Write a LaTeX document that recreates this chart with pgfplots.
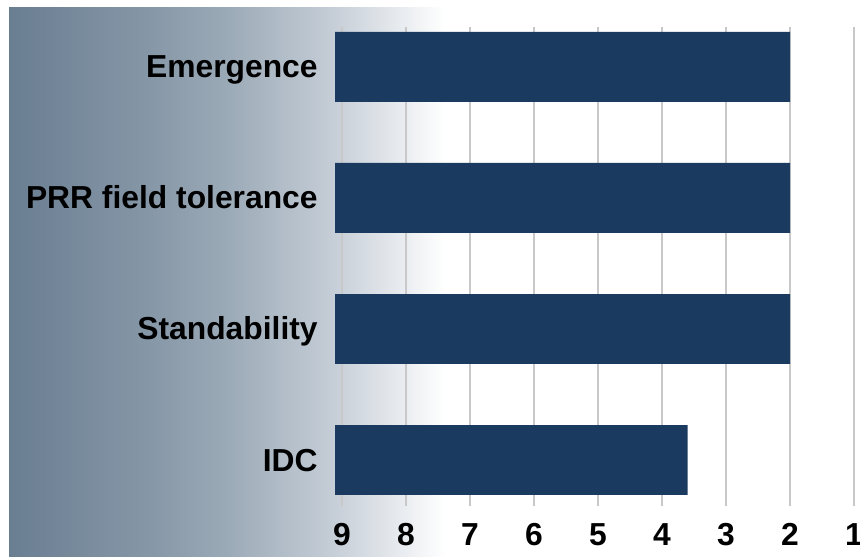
\documentclass[border=0pt]{standalone}
\usepackage{fontspec}
\setmainfont{Liberation Sans}
\usepackage{pgfplots}
\pgfplotsset{compat=1.18}
\definecolor{barc}{RGB}{27,58,95}
\definecolor{g0}{RGB}{106,126,146}
\definecolor{g1}{RGB}{134,151,167}
\definecolor{g2}{RGB}{155,170,183}
\definecolor{g3}{RGB}{199,207,216}
\definecolor{gridc}{RGB}{200,200,200}
\begin{document}
\begin{tikzpicture}
\useasboundingbox (0pt,0pt) rectangle (430pt,278pt);
\shade[left color=g0, right color=g1] (4.5pt,0pt) rectangle (75.3pt,274pt);
\shade[left color=g1, right color=g2] (75pt,0pt) rectangle (113.8pt,274pt);
\shade[left color=g2, right color=g3] (113.5pt,0pt) rectangle (168.3pt,274pt);
\shade[left color=g3, right color=white] (168pt,0pt) rectangle (222.5pt,274pt);
\begin{axis}[
 at={(167.5pt,25pt)}, anchor=south west, scale only axis,
 width=261pt, height=239.5pt,
 x coord trafo/.code={\pgfmathparse{10-#1}},
 x coord inv trafo/.code={\pgfmathparse{10-#1}},
 xmin=9.109, xmax=0.953,
 ymin=0.649, ymax=4.305,
 xtick={1,2,3,4,5,6,7,8,9}, xticklabels={1,2,3,4,5,6,7,8,9},
 ytick={1,2,3,4}, yticklabels={IDC,Standability,PRR field tolerance,Emergence},
 xmajorgrids, grid style={gridc, line width=0.65pt},
 axis line style={draw=none}, major tick length=0pt,
 /pgf/number format/assume math mode=true,
 tick label style={font=\fontsize{15.9}{18}\selectfont\bfseries},
 xticklabel style={anchor=base, yshift=-19.7pt},
 yticklabel style={anchor=base east, yshift=-5.5pt, xshift=-8.5pt, inner sep=0pt},
 xbar, bar width=0.534,
]
\addplot[fill=barc, draw=none] coordinates {(3.6,1) (2,2) (2,3) (2,4)};
\end{axis}
\end{tikzpicture}
\end{document}
